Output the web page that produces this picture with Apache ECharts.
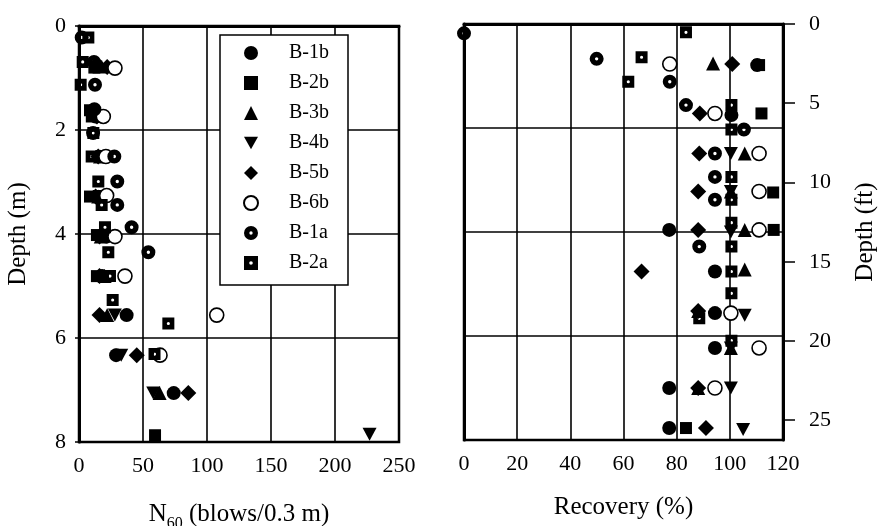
<!DOCTYPE html>
<html>
<head>
<meta charset="utf-8">
<script src="https://cdn.jsdelivr.net/npm/echarts@6/dist/echarts.min.js"></script>
<style>html,body{margin:0;padding:0;background:#fff}#c{width:885px;height:526px}</style>
</head>
<body>
<div id="c"></div>
<script>
// ---- tick labels ----
const n60Ticks = [0, 50, 100, 150, 200, 250];
const recTicks = [0, 20, 40, 60, 80, 100, 120];
const depthMTicks = [0, 2, 4, 6, 8];
const depthFtTicks = [0, 5, 10, 15, 20, 25];
const seriesNames = ['B-1b', 'B-2b', 'B-3b', 'B-4b', 'B-5b', 'B-6b', 'B-1a', 'B-2a'];

// ---- N60 vs depth (m): [N60, depth] ----
const b1b_N60 = [[14,0.76],[13,1.74],[21.6,4.05],[18,4.81],[37.2,5.56],[29,6.33],[74,7.06]];
const b2b_N60 = [[12,0.80],[10,1.74],[8.6,3.28],[14,4.02],[14,4.81],[59.4,7.87]];
const b3b_N60 = [[16,0.78],[16.4,2.51],[15,3.28],[17,4.05],[20,4.81],[22,5.56],[63,7.06]];
const b4b_N60 = [[18,2.51],[16,3.28],[18,4.05],[28,5.56],[33,6.33],[58,7.06],[227,7.85]];
const b5b_N60 = [[22,0.79],[14,1.74],[15,2.51],[13,3.28],[16,4.05],[16,4.81],[16,5.56],[45.1,6.33],[85.4,7.06]];
const b6b_N60 = [[28.1,0.81],[19,1.74],[21,2.51],[21.6,3.26],[28.1,4.05],[35.9,4.81],[107.6,5.56],[63.3,6.33]];
const b1a_N60 = [[2.1,0.22],[11.7,0.69],[12.5,1.13],[12,1.60],[11,2.06],[27.6,2.51],[29.9,2.99],[29.9,3.44],[41.1,3.87],[54.2,4.35]];
const b2a_N60 = [[7.3,0.22],[2.9,0.69],[1.3,1.13],[8.6,1.62],[11.2,2.06],[9.9,2.51],[15.1,2.99],[17.7,3.44],[20.3,3.87],[22.9,4.35],[24.2,4.81],[26.3,5.27],[69.8,5.72],[59,6.31]];

// ---- Recovery (%) vs depth (m): [recovery, depth] ----
const b1b_Rec = [[110.3,0.79],[100.6,1.75],[77.2,3.96],[94.4,4.76],[94.4,5.56],[94.4,6.23],[77.2,7.00],[77.2,7.77]];
const b2b_Rec = [[111,0.79],[111.9,1.72],[116.3,3.24],[116.5,3.96],[83.5,7.77]];
const b3b_Rec = [[93.7,0.76],[105.6,2.49],[100.4,3.22],[105.6,3.96],[105.6,4.72],[88.1,5.52],[100.4,6.23],[88.1,7.00]];
const b4b_Rec = [[100.4,2.49],[100.4,3.22],[100.4,4.00],[105.6,5.60],[100.4,6.23],[100.4,7.00],[105,7.80]];
const b5b_Rec = [[100.9,0.77],[88.7,1.72],[88.5,2.49],[88.1,3.22],[88.1,3.96],[66.8,4.76],[88.1,5.52],[88.1,7.00],[91,7.77]];
const b6b_Rec = [[77.4,0.77],[94.4,1.72],[111,2.49],[111,3.22],[111,3.96],[100.4,5.56],[111,6.23],[94.4,7.00]];
const b1a_Rec = [[0,0.18],[49.9,0.67],[77.4,1.11],[83.5,1.56],[105.3,2.03],[94.4,2.49],[94.4,2.94],[94.4,3.38],[88.5,4.28]];
const b2a_Rec = [[83.5,0.16],[66.8,0.64],[61.8,1.11],[100.6,1.56],[100.6,2.03],[100.6,2.94],[100.6,3.38],[100.6,3.82],[100.6,4.28],[100.6,4.76],[100.6,5.18],[88.5,5.66],[100.6,6.09]];

const FT_PER_M = 1 / 0.3048;
const FONT = '"Liberation Serif", "Times New Roman", serif';

const dotCircle = 'path://M0,10 A10,10 0 1,1 20,10 A10,10 0 1,1 0,10 Z M7.6,10 A2.4,2.4 0 1,0 12.4,10 A2.4,2.4 0 1,0 7.6,10 Z';
const dotSquare = 'path://M0,0 L20,0 L20,20 L0,20 Z M7.4,10 A2.6,2.6 0 1,0 12.6,10 A2.6,2.6 0 1,0 7.4,10 Z';
const downTri = 'path://M0,0 L20,0 L10,18 Z';

const styles = {
  'B-1b': {symbol: 'circle', size: 14},
  'B-2b': {symbol: 'rect', size: 12},
  'B-3b': {symbol: 'triangle', size: 14},
  'B-4b': {symbol: downTri, size: [14, 13]},
  'B-5b': {symbol: 'diamond', size: 16},
  'B-6b': {symbol: 'circle', size: 14, open: true},
  'B-1a': {symbol: dotCircle, size: 14},
  'B-2a': {symbol: dotSquare, size: 12}
};
const nData = {'B-1b': b1b_N60, 'B-2b': b2b_N60, 'B-3b': b3b_N60, 'B-4b': b4b_N60, 'B-5b': b5b_N60, 'B-6b': b6b_N60, 'B-1a': b1a_N60, 'B-2a': b2a_N60};
const rData = {'B-1b': b1b_Rec, 'B-2b': b2b_Rec, 'B-3b': b3b_Rec, 'B-4b': b4b_Rec, 'B-5b': b5b_Rec, 'B-6b': b6b_Rec, 'B-1a': b1a_Rec, 'B-2a': b2a_Rec};

function mkSeries(name, data, xi, yi) {
  const s = styles[name];
  return {
    type: 'scatter', name: name, xAxisIndex: xi, yAxisIndex: yi,
    data: data, symbol: s.symbol, symbolSize: s.size,
    itemStyle: s.open ? {color: '#fff', borderColor: '#000', borderWidth: 1.6, opacity: 1}
                      : {color: '#000', opacity: 1},
    emphasis: {disabled: true}, silent: true, clip: false, animation: false
  };
}
const series = [];
seriesNames.forEach(n => series.push(mkSeries(n, nData[n], 0, 0)));
seriesNames.forEach(n => series.push(mkSeries(n, rData[n], 1, 1)));

const labelStyle = {color: '#000', fontFamily: FONT, fontSize: 22};
const nameStyle = {fontFamily: FONT, fontSize: 25, color: '#000'};
const splitStyle = {show: true, lineStyle: {color: '#000', width: 1.6}};

const option = {
  backgroundColor: '#fff',
  animation: false,
  grid: [
    {left: 79, top: 26, width: 320, height: 416, show: true, borderColor: '#000', borderWidth: 2.5, backgroundColor: 'transparent', containLabel: false, outerBoundsMode: 'none'},
    {left: 464, top: 24, width: 319, height: 416, show: true, borderColor: '#000', borderWidth: 2.5, backgroundColor: 'transparent', containLabel: false, outerBoundsMode: 'none'}
  ],
  legend: {
    data: seriesNames,
    orient: 'vertical', left: 220, top: 35,
    backgroundColor: '#fff', borderColor: '#000', borderWidth: 1.5, borderRadius: 0,
    padding: [8, 19, 12, 23],
    itemWidth: 14, itemHeight: 14, itemGap: 10,
    textStyle: {color: '#000', fontFamily: FONT, fontSize: 20, padding: [0, 0, 0, 26]},
    selectedMode: false, z: 10
  },
  xAxis: [
    {gridIndex: 0, type: 'value', min: 0, max: 250, interval: 50, position: 'bottom',
     axisLine: {show: true, lineStyle: {color: '#000', width: 3}},
     axisTick: {show: false},
     axisLabel: Object.assign({margin: 13, customValues: n60Ticks}, labelStyle),
     splitLine: splitStyle,
     name: '{m|N}{sub|60}{m| (blows/0.3 m)}', nameLocation: 'middle', nameGap: 55,
     nameTextStyle: {rich: {
       m: {fontFamily: FONT, fontSize: 25, color: '#000', lineHeight: 25, verticalAlign: 'middle'},
       sub: {fontFamily: FONT, fontSize: 16, color: '#000', lineHeight: 35, verticalAlign: 'bottom'}
     }}},
    {gridIndex: 1, type: 'value', min: 0, max: 120, interval: 20, position: 'bottom',
     axisLine: {show: true, lineStyle: {color: '#000', width: 3}},
     axisTick: {show: false},
     axisLabel: Object.assign({margin: 13, customValues: recTicks}, labelStyle),
     splitLine: splitStyle,
     name: 'Recovery (%)', nameLocation: 'middle', nameGap: 55,
     nameTextStyle: nameStyle}
  ],
  yAxis: [
    {gridIndex: 0, type: 'value', min: 0, max: 8, interval: 2, inverse: true, position: 'left',
     axisLine: {show: true, lineStyle: {color: '#000', width: 3}},
     axisTick: {show: true, length: 4, lineStyle: {color: '#000', width: 1.5}},
     axisLabel: Object.assign({margin: 13, customValues: depthMTicks}, labelStyle),
     splitLine: splitStyle,
     name: 'Depth (m)', nameLocation: 'middle', nameGap: 48, nameRotate: 90,
     nameTextStyle: nameStyle},
    {gridIndex: 1, type: 'value', min: 0, max: 8, interval: 2, inverse: true, position: 'left',
     axisLine: {show: true, lineStyle: {color: '#000', width: 3}},
     axisTick: {show: false}, axisLabel: {show: false},
     splitLine: splitStyle},
    {gridIndex: 1, type: 'value', min: 0, max: 8 * FT_PER_M, inverse: true, position: 'right',
     axisLine: {show: true, lineStyle: {color: '#000', width: 3}},
     axisTick: {show: true, inside: false, length: 12, customValues: depthFtTicks, lineStyle: {color: '#000', width: 1.5}},
     axisLabel: Object.assign({margin: 26, customValues: depthFtTicks}, labelStyle),
     splitLine: {show: false},
     name: 'Depth (ft)', nameLocation: 'middle', nameGap: 70, nameRotate: 90,
     nameTextStyle: nameStyle}
  ],
  series: series
};
const chart = echarts.init(document.getElementById('c'), null, {renderer: 'canvas'});
chart.setOption(option);
</script>
</body>
</html>
